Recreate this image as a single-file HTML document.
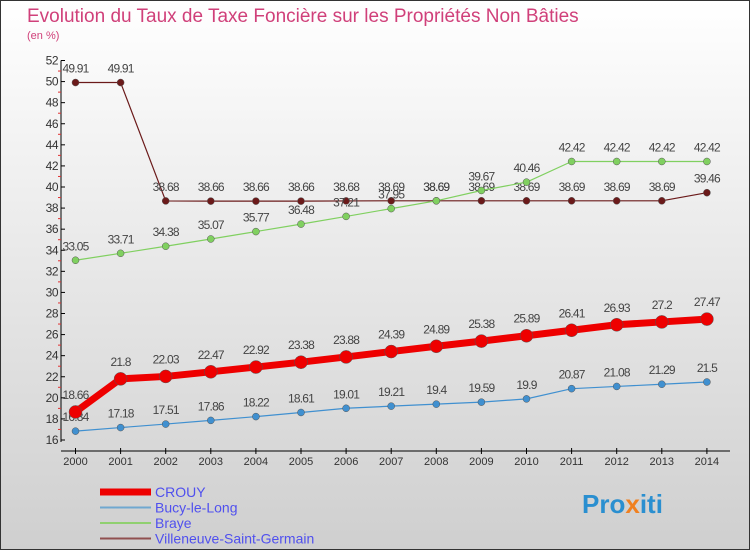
<!DOCTYPE html>
<html><head><meta charset="utf-8"><style>
body{margin:0;width:750px;height:550px;overflow:hidden;font-family:"Liberation Sans",sans-serif}
#wrap{position:absolute;left:0;top:0;width:748px;height:548px;border:1px solid #333;background:linear-gradient(#ffffff,#cfcfcf)}
</style></head><body>
<div id="wrap"></div>
<svg id="chart" width="750" height="550" style="position:absolute;left:0;top:0">
<text x="27" y="22" font-size="19" fill="#d0407a">Evolution du Taux de Taxe Foncière sur les Propriétés Non Bâties</text>
<text x="27" y="39" font-size="11" fill="#d0407a">(en %)</text>
<g id="axes"></g><g id="series"></g><g id="legend"></g>
<text x="582" y="513" font-size="26" font-weight="bold" fill="#2a8fd0">Pro<tspan fill="#f08020">x</tspan>iti</text>
</svg>
<script>
const years=[2000,2001,2002,2003,2004,2005,2006,2007,2008,2009,2010,2011,2012,2013,2014];
const crouy=[18.66,21.8,22.03,22.47,22.92,23.38,23.88,24.39,24.89,25.38,25.89,26.41,26.93,27.2,27.47];
const bucy=[16.84,17.18,17.51,17.86,18.22,18.61,19.01,19.21,19.4,19.59,19.9,20.87,21.08,21.29,21.5];
const braye=[33.05,33.71,34.38,35.07,35.77,36.48,37.21,37.95,38.69,39.67,40.46,42.42,42.42,42.42,42.42];
const vsg=[49.91,49.91,38.68,38.66,38.66,38.66,38.68,38.69,38.69,38.69,38.69,38.69,38.69,38.69,39.46];
const yTicks=[16,18,20,22,24,26,28,30,32,34,36,38,40,42,44,46,48,50,52];
const NS="http://www.w3.org/2000/svg";
const X=i=>75.5+i*45.1;
const Y=v=>440-(v-16)*(379.5/36);
function mk(p,tag,a){const e=document.createElementNS(NS,tag);for(const k in a)e.setAttribute(k,a[k]);p.appendChild(e);return e;}
const ax=document.getElementById('axes');
let e=mk(ax,'line',{x1:61,y1:Y(52),x2:61,y2:Y(16)+2,stroke:'#000'});


e=mk(ax,'line',{x1:61,y1:451,x2:730,y2:451,stroke:'#000'});


yTicks.forEach(t=>{
 mk(ax,'line',{x1:61,y1:Y(t),x2:65,y2:Y(t),stroke:'#000'});
 if(t<52)mk(ax,'line',{x1:58,y1:Y(t+1),x2:61,y2:Y(t+1),stroke:'#e03030'});
 const tx=mk(ax,'text',{x:58,y:Y(t)+4,'font-size':12,'text-anchor':'end',fill:'#333','letter-spacing':'-0.5'});tx.textContent=t;
 
 
});
years.forEach((yr,i)=>{
 mk(ax,'line',{x1:X(i),y1:448,x2:X(i),y2:454,stroke:'#000'});
 const tx=mk(ax,'text',{x:X(i),y:465,'font-size':11,'text-anchor':'middle',fill:'#333'});tx.textContent=yr;
 
 
});
const sg=document.getElementById('series');
function series(data,color,w,r,name){
 const g=mk(sg,'g',{});
 
 
 mk(g,'polyline',{points:data.map((v,i)=>X(i)+','+Y(v)).join(' '),fill:'none',stroke:color,'stroke-width':w,'stroke-linejoin':'round'});
 data.forEach((v,i)=>{
  const c=mk(g,'circle',{cx:X(i),cy:Y(v),r:r,fill:color,stroke:'#555','stroke-width':0.5});
  
  
  const t=mk(g,'text',{x:X(i),y:Y(v)-10-(r>5?3:0),'font-size':12,'text-anchor':'middle',fill:'#444','letter-spacing':'-0.8'});
  t.textContent=v;
  
  
 });
}
series(vsg,'#6b1a1a',1.2,3.5,'villeneuve-series');
series(braye,'#80d060',1.2,3.5,'braye-series');
series(bucy,'#4090d0',1.2,3.5,'bucy-series');
series(crouy,'#ee0000',7,6.5,'crouy-series');
const lg=document.getElementById('legend');
const leg=[['CROUY','#ee0000',7],['Bucy-le-Long','#70a8d0',2],['Braye','#90d070',2],['Villeneuve-Saint-Germain','#905050',2]];
leg.forEach((l,i)=>{
 const y=492+i*15.5;
 const s=mk(lg,'line',{x1:100,y1:y,x2:151,y2:y,stroke:l[1],'stroke-width':l[2]});
 
 
 const t=mk(lg,'text',{x:155,y:y+5,'font-size':14,fill:'#5050ee'});t.textContent=l[0];
 
 
});
</script>
</body></html>
